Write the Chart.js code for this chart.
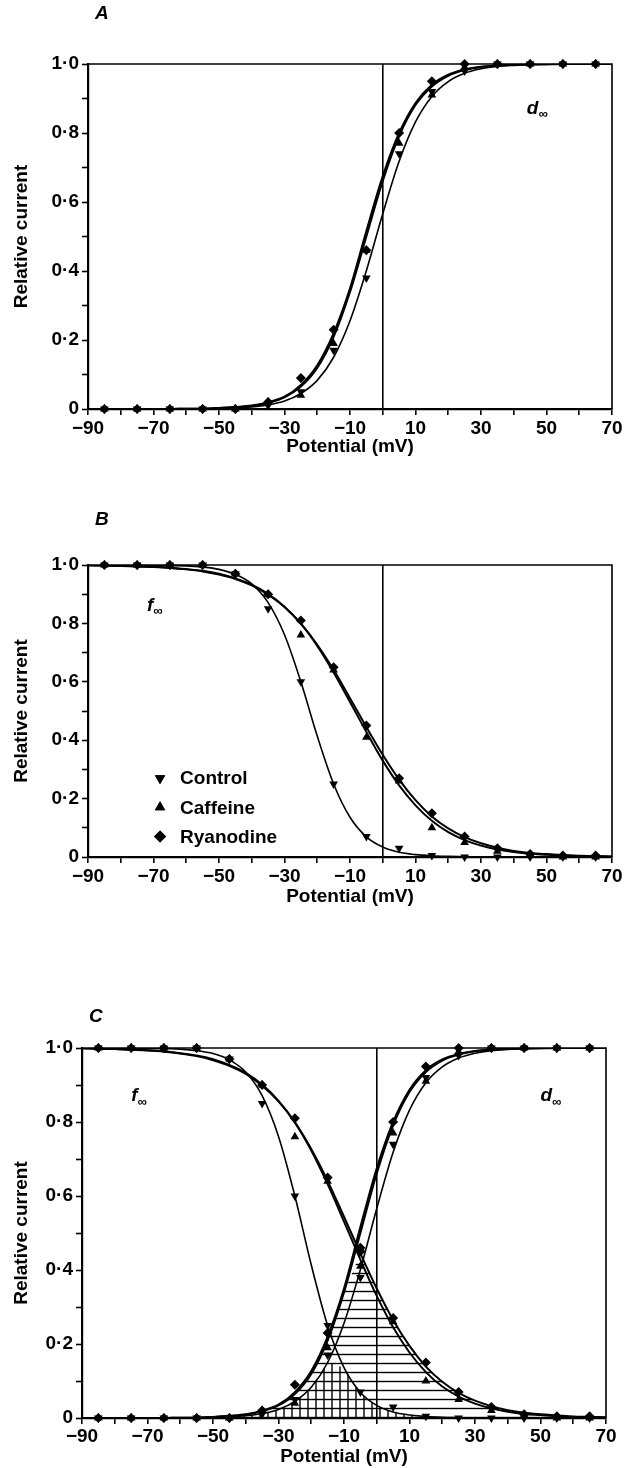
<!DOCTYPE html>
<html>
<head>
<meta charset="utf-8">
<script src="https://cdn.jsdelivr.net/npm/chart.js@4.4.1/dist/chart.umd.min.js"></script>
<style>
  html, body { margin: 0; padding: 0; background: #fff; width: 628px; height: 1468px; overflow: hidden; }
  canvas { position: absolute; left: 0; }
</style>
</head>
<body>
<canvas id="chartA" width="628" height="470" style="top:0px"></canvas>
<canvas id="chartB" width="628" height="420" style="top:500px"></canvas>
<canvas id="chartC" width="628" height="478" style="top:990px"></canvas>
<script>
// measured potentials (mV) and the potentials where the fitted curves were read
const potentials = [-85, -75, -65, -55, -45, -35, -25, -15, -5, 5, 15, 25, 35, 45, 55, 65];
const fitPotentials = [-90, -85, -80, -75, -70, -65, -60, -55, -50, -45, -40, -35, -30, -25, -20, -15, -10,
  -5, 0, 5, 10, 15, 20, 25, 30, 35, 40, 45, 50, 55, 60, 65, 70];

// activation (d infinity) points
const actControl   = [0, 0, 0, 0, 0, 0.01, 0.05, 0.17, 0.38, 0.74, 0.92, 0.98, 1, 1, 1, 1];
const actCaffeine  = [0, 0, 0, 0, 0, 0.02, 0.04, 0.19, 0.46, 0.77, 0.91, 0.99, 1, 1, 1, 1];
const actRyanodine = [0, 0, 0, 0, 0, 0.02, 0.09, 0.23, 0.46, 0.80, 0.95, 1, 1, 1, 1, 1];

// inactivation (f infinity) points
const inactControl   = [1, 1, 1, 1, 0.97, 0.85, 0.60, 0.25, 0.07, 0.03, 0.005, 0, 0, 0, 0, 0];
const inactCaffeine  = [1, 1, 1, 1, 0.97, 0.90, 0.76, 0.64, 0.41, 0.26, 0.10, 0.05, 0.02, 0.005, 0, 0];
const inactRyanodine = [1, 1, 1, 1, 0.97, 0.90, 0.81, 0.65, 0.45, 0.27, 0.15, 0.07, 0.03, 0.01, 0.005, 0.005];

// fitted curves
const actFitControl   = [0, 0, 0, 0, 0, 0, 0, 0.001, 0.002, 0.003, 0.006, 0.012, 0.023, 0.045, 0.083, 0.150, 0.256,
  0.401, 0.566, 0.718, 0.832, 0.906, 0.949, 0.973, 0.986, 0.993, 0.996, 0.998, 0.999, 1, 1, 1, 1];
const actFitCaffeine  = [0, 0, 0, 0, 0, 0, 0.001, 0.001, 0.003, 0.006, 0.010, 0.020, 0.036, 0.070, 0.127, 0.220, 0.350,
  0.516, 0.675, 0.800, 0.887, 0.940, 0.969, 0.984, 0.992, 0.996, 0.998, 0.999, 1, 1, 1, 1, 1];
const actFitRyanodine = [0, 0, 0, 0, 0, 0, 0.001, 0.001, 0.003, 0.005, 0.009, 0.018, 0.034, 0.065, 0.119, 0.209, 0.339,
  0.5, 0.661, 0.791, 0.881, 0.935, 0.966, 0.982, 0.991, 0.995, 0.998, 0.999, 0.999, 1, 1, 1, 1];

const inactFitControl   = [1, 1, 1, 1, 0.999, 0.998, 0.997, 0.993, 0.985, 0.968, 0.935, 0.871, 0.761, 0.600, 0.414, 0.250, 0.136,
  0.069, 0.034, 0.016, 0.008, 0.004, 0.002, 0.001, 0, 0, 0, 0, 0, 0, 0, 0, 0];
const inactFitCaffeine  = [0.999, 0.998, 0.997, 0.996, 0.994, 0.991, 0.986, 0.980, 0.970, 0.954, 0.933, 0.901, 0.857, 0.799, 0.723, 0.632, 0.531,
  0.428, 0.330, 0.245, 0.177, 0.124, 0.085, 0.058, 0.039, 0.026, 0.017, 0.011, 0.008, 0.005, 0.003, 0.002, 0.001];
const inactFitRyanodine = [0.999, 0.998, 0.997, 0.995, 0.993, 0.990, 0.985, 0.978, 0.967, 0.952, 0.930, 0.898, 0.856, 0.799, 0.727, 0.641, 0.544,
  0.445, 0.350, 0.265, 0.195, 0.139, 0.098, 0.068, 0.047, 0.032, 0.021, 0.014, 0.010, 0.007, 0.004, 0.003, 0.002];

const xTickLabels = ['−90', '−70', '−50', '−30', '−10', '10', '30', '50', '70'];
const yTickLabels = ['0', '0·2', '0·4', '0·6', '0·8', '1·0'];
const legendNames = ['Control', 'Caffeine', 'Ryanodine'];

const FONT = '"Liberation Sans", Arial, Helvetica, sans-serif';

function pts(xs, ys) {
  return xs.map((x, i) => ({ x: x, y: ys[i] }));
}

function markers(ys, style, rot) {
  return {
    type: 'scatter', data: pts(potentials, ys), pointStyle: style, rotation: rot || 0,
    pointRadius: 5, backgroundColor: '#000', borderColor: '#000', borderWidth: 0,
    showLine: false, clip: false, order: 1
  };
}

function fit(ys, w) {
  return {
    type: 'line', data: pts(fitPotentials, ys), borderColor: '#000', borderWidth: w,
    pointRadius: 0, fill: false, cubicInterpolationMode: 'monotone', order: 2
  };
}

function hatch(ys, pattern) {
  return {
    type: 'line', data: pts(fitPotentials, ys), borderWidth: 0, borderColor: 'rgba(0,0,0,0)',
    backgroundColor: pattern, fill: 'origin', pointRadius: 0, order: 5
  };
}

function makePattern(canvasId, dir, gap) {
  const c = document.createElement('canvas');
  c.width = dir === 'h' ? 10 : gap;
  c.height = dir === 'h' ? gap : 10;
  const g = c.getContext('2d');
  g.strokeStyle = '#000';
  g.lineWidth = 1.4;
  g.beginPath();
  if (dir === 'h') { g.moveTo(0, gap / 2); g.lineTo(10, gap / 2); }
  else { g.moveTo(gap / 2, 0); g.lineTo(gap / 2, 10); }
  g.stroke();
  return document.getElementById(canvasId).getContext('2d').createPattern(c, 'repeat');
}

// frame, panel letter, italic d/f labels and the legend
const decor = {
  id: 'decor',
  afterDraw(chart, args, o) {
    const { ctx, chartArea: a } = chart;
    const xs = chart.scales.x, ys = chart.scales.y;
    ctx.save();
    ctx.strokeStyle = '#000';
    ctx.lineWidth = 1.6;
    ctx.beginPath();
    ctx.moveTo(a.left, a.top);
    ctx.lineTo(a.right, a.top);
    ctx.lineTo(a.right, a.bottom);
    ctx.stroke();

    ctx.fillStyle = '#000';
    ctx.textBaseline = 'middle';
    ctx.textAlign = 'left';
    ctx.font = 'italic bold 19px ' + FONT;
    ctx.fillText(o.letter, a.left + 7, a.top - o.letterGap);

    (o.notes || []).forEach(n => {
      const px = xs.getPixelForValue(n.x), py = ys.getPixelForValue(n.y);
      ctx.font = 'italic bold 19px ' + FONT;
      ctx.fillText(n.sym, px, py);
      const w = ctx.measureText(n.sym).width;
      ctx.font = 'bold 13px ' + FONT;
      ctx.fillText('∞', px + w, py + 6);
    });

    if (o.legend) {
      const styles = [['triangle', 180], ['triangle', 0], ['rectRot', 0]];
      legendNames.forEach((name, i) => {
        const px = xs.getPixelForValue(o.legend.x);
        const py = ys.getPixelForValue(o.legend.ys[i]);
        Chart.helpers.drawPoint(ctx, { pointStyle: styles[i][0], rotation: styles[i][1], radius: 6, borderWidth: 0 }, px, py);
        ctx.fill();
        ctx.font = '600 19px ' + FONT;
        ctx.fillText(name, px + 20, py + 1);
      });
    }
    ctx.restore();
  }
};

function buildPanel(id, cfg) {
  new Chart(document.getElementById(id), {
    data: { datasets: cfg.datasets },
    options: {
      responsive: false,
      animation: false,
      devicePixelRatio: 1,
      layout: { padding: { top: cfg.padTop, right: cfg.padRight, left: 0, bottom: 0 } },
      scales: {
        x: {
          type: 'linear', min: -90, max: 70,
          afterFit: s => { s.height = cfg.xAxisHeight; },
          border: { display: true, color: '#000', width: 2.2 },
          grid: {
            color: c => (c.tick && c.tick.value === 0 ? '#000' : 'rgba(0,0,0,0)'),
            lineWidth: 1.6, drawTicks: true, tickLength: 6, tickColor: '#000', tickWidth: 1.6
          },
          ticks: {
            stepSize: 10, autoSkip: false, maxRotation: 0, padding: cfg.xTickPad, color: '#000',
            font: { family: FONT, size: 19, weight: 'bold' },
            callback: v => ((v + 90) % 20 === 0 ? xTickLabels[(v + 90) / 20] : '')
          },
          title: {
            display: true, text: 'Potential (mV)', color: '#000',
            font: { family: FONT, size: 19, weight: '600' }, padding: { top: 0, bottom: cfg.xTitlePad }
          }
        },
        y: {
          min: 0, max: 1,
          afterFit: s => { s.width = cfg.yAxisWidth; },
          border: { display: true, color: '#000', width: 2.2 },
          grid: { color: 'rgba(0,0,0,0)', drawTicks: true, tickLength: 6, tickColor: '#000', tickWidth: 1.6 },
          ticks: {
            stepSize: 0.1, autoSkip: false, padding: 3, color: '#000',
            font: { family: FONT, size: 19, weight: 'bold' },
            callback: v => { const k = Math.round(v * 10); return k % 2 ? '' : yTickLabels[k / 2]; }
          },
          title: {
            display: true, text: 'Relative current', color: '#000',
            font: { family: FONT, size: 19, weight: 'bold' }, padding: { top: cfg.yTitlePad, bottom: 0 }
          }
        }
      },
      plugins: {
        legend: { display: false },
        tooltip: { enabled: false },
        decor: cfg.decor
      }
    },
    plugins: [decor]
  });
}

const actSets = () => [
  markers(actControl, 'triangle', 180), markers(actCaffeine, 'triangle', 0), markers(actRyanodine, 'rectRot', 0),
  fit(actFitControl, 1.6), fit(actFitCaffeine, 2), fit(actFitRyanodine, 2)
];
const inactSets = () => [
  markers(inactControl, 'triangle', 180), markers(inactCaffeine, 'triangle', 0), markers(inactRyanodine, 'rectRot', 0),
  fit(inactFitControl, 1.6), fit(inactFitCaffeine, 2), fit(inactFitRyanodine, 2)
];

buildPanel('chartA', {
  datasets: actSets(),
  padTop: 64, padRight: 16, xAxisHeight: 61, yAxisWidth: 88, xTickPad: 2, xTitlePad: 12, yTitlePad: 10,
  decor: { letter: 'A', letterGap: 50, notes: [{ sym: 'd', x: 44, y: 0.87 }] }
});

buildPanel('chartB', {
  datasets: inactSets(),
  padTop: 65, padRight: 16, xAxisHeight: 63, yAxisWidth: 88, xTickPad: 2, xTitlePad: 12, yTitlePad: 10,
  decor: {
    letter: 'B', letterGap: 45, notes: [{ sym: 'f', x: -72, y: 0.86 }],
    legend: { x: -68, ys: [0.27, 0.17, 0.07] }
  }
});

// window-current overlap areas
const windowRyanodine = fitPotentials.map((v, i) => Math.min(actFitRyanodine[i], inactFitRyanodine[i]));
const windowControl = fitPotentials.map((v, i) => Math.min(actFitControl[i], inactFitControl[i]));

buildPanel('chartC', {
  datasets: actSets().concat(inactSets()).concat([
    hatch(windowRyanodine, makePattern('chartC', 'h', 9)),
    hatch(windowControl, makePattern('chartC', 'v', 8))
  ]),
  padTop: 58, padRight: 22, xAxisHeight: 50, yAxisWidth: 82, xTickPad: 1, xTitlePad: 0, yTitlePad: 10,
  decor: {
    letter: 'C', letterGap: 31,
    notes: [{ sym: 'f', x: -75, y: 0.87 }, { sym: 'd', x: 50, y: 0.87 }]
  }
});
</script>
</body>
</html>
